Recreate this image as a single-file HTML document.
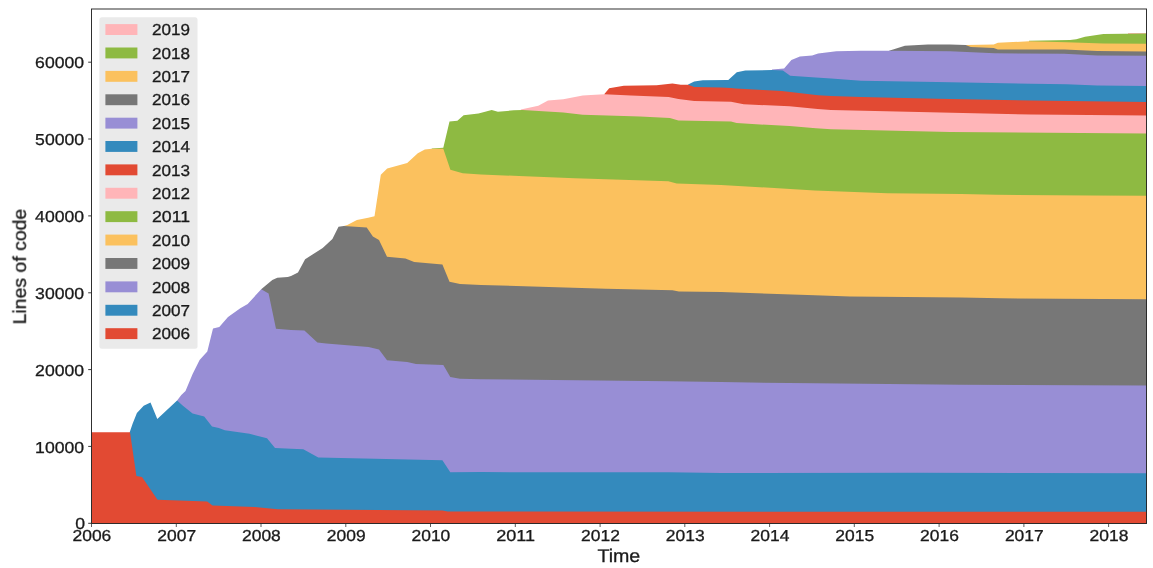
<!DOCTYPE html>
<html><head><meta charset="utf-8"><style>
html,body{margin:0;padding:0;background:#fff;}
body{width:1153px;height:568px;overflow:hidden;font-family:"Liberation Sans", sans-serif;}
svg{display:block;} text{text-rendering:geometricPrecision;}
</style></head><body>
<svg width="1153" height="568" viewBox="0 0 1153 568">
<rect width="1153" height="568" fill="#fff"/>
<clipPath id="ax"><rect x="91" y="9" width="1056" height="514.5"/></clipPath>
<g clip-path="url(#ax)">
<polygon points="1128.0,33.0 1146.0,32.9 1148.0,32.9 1148.0,524.0 1128.0,524.0" fill="#FFB5B8"/>
<polygon points="1029.0,40.8 1070.0,40.1 1076.3,39.2 1085.0,36.7 1103.4,33.9 1146.0,33.6 1148.0,33.6 1148.0,524.0 1029.0,524.0" fill="#8EBA42"/>
<polygon points="966.0,44.9 993.7,44.4 997.9,42.8 1029.0,41.3 1066.5,42.3 1103.4,43.5 1146.0,43.7 1148.0,43.7 1148.0,524.0 966.0,524.0" fill="#FBC15E"/>
<polygon points="889.1,50.8 904.9,45.8 927.8,44.4 950.0,44.4 965.6,44.9 970.8,47.0 993.7,48.0 997.9,49.6 1064.5,49.6 1097.3,50.9 1146.0,51.5 1148.0,51.5 1148.0,524.0 889.1,524.0" fill="#777777"/>
<polygon points="772.0,69.5 784.1,68.5 791.4,60.0 799.9,56.4 812.1,55.5 818.1,53.6 830.3,52.1 836.3,51.2 861.0,50.7 889.1,50.8 950.0,51.2 994.7,53.3 1064.0,53.8 1097.3,55.6 1146.0,55.8 1148.0,55.8 1148.0,524.0 772.0,524.0" fill="#988ED5"/>
<polygon points="688.1,84.6 694.2,81.5 702.7,80.3 727.0,80.0 728.3,80.1 736.8,72.2 745.3,70.6 772.0,70.1 782.9,70.4 790.2,75.8 815.7,77.6 831.0,78.4 861.0,80.7 936.6,81.9 1031.0,83.7 1066.5,84.2 1097.3,85.6 1146.0,86.0 1148.0,86.0 1148.0,524.0 688.1,524.0" fill="#348ABD"/>
<polygon points="604.4,94.0 609.2,88.2 623.8,85.8 656.6,85.2 672.4,83.4 680.8,84.8 688.1,84.8 694.2,87.0 721.0,87.4 731.0,88.0 735.6,88.6 763.0,90.1 781.7,91.0 818.1,95.2 831.0,96.0 861.0,97.0 936.6,98.7 1031.0,100.4 1146.0,102.0 1148.0,102.0 1148.0,524.0 604.4,524.0" fill="#E24A33"/>
<polygon points="520.8,109.6 538.3,105.7 548.0,100.5 563.3,99.2 582.7,95.5 591.0,94.9 604.4,94.3 631.0,95.4 668.7,97.0 678.4,99.1 694.2,101.0 731.0,101.8 743.7,104.2 789.5,106.3 817.6,109.0 831.0,110.1 919.0,111.9 1031.0,114.5 1146.0,115.5 1148.0,115.5 1148.0,524.0 520.8,524.0" fill="#FFB5B8"/>
<polygon points="431.8,148.4 443.3,147.8 449.5,121.4 457.4,120.8 463.6,115.2 478.5,113.5 491.7,109.9 497.9,111.7 513.7,110.3 522.5,109.9 563.3,112.6 582.7,114.7 640.0,116.4 669.9,117.9 678.4,120.4 731.0,121.6 736.6,123.1 789.5,126.1 815.9,128.3 831.0,129.3 950.0,132.0 1146.0,133.6 1148.0,133.6 1148.0,524.0 431.8,524.0" fill="#8EBA42"/>
<polygon points="343.8,225.9 347.3,225.0 356.9,219.9 368.2,217.7 374.5,216.3 380.8,174.8 387.2,168.5 407.2,162.9 417.8,153.2 424.8,149.6 431.8,148.8 443.3,148.7 450.4,169.8 462.7,173.3 481.0,174.6 519.0,176.0 574.7,178.3 668.3,181.2 676.7,183.5 721.0,185.0 814.7,190.4 887.5,193.3 961.0,193.9 996.3,194.8 1090.0,195.4 1146.0,195.8 1148.0,195.8 1148.0,524.0 343.8,524.0" fill="#FBC15E"/>
<polygon points="261.2,289.2 272.3,280.0 277.3,277.8 287.8,277.0 291.0,276.0 298.0,272.5 305.1,259.3 322.7,247.9 332.4,239.1 338.5,226.8 343.8,225.9 366.7,227.6 372.9,236.4 379.0,240.0 387.0,256.7 405.4,258.5 414.2,262.0 442.4,264.6 449.5,281.7 460.0,284.0 481.0,285.0 605.9,288.7 672.5,290.2 678.8,291.4 721.0,292.1 814.7,295.2 850.0,296.4 961.0,297.5 1000.4,298.3 1146.0,299.2 1148.0,299.2 1148.0,524.0 261.2,524.0" fill="#777777"/>
<polygon points="177.1,400.5 181.3,395.0 185.5,391.0 192.5,374.2 199.6,360.1 207.3,351.6 213.0,328.4 219.3,327.0 228.0,317.0 240.3,308.3 247.7,304.0 261.2,289.2 268.6,293.6 276.0,328.7 291.0,329.9 304.4,330.5 317.4,342.6 326.2,343.5 368.5,347.0 379.0,349.6 387.0,360.2 407.2,362.0 416.0,364.1 443.3,365.1 450.3,376.9 460.0,378.7 481.0,379.2 668.3,381.2 721.0,382.1 814.7,383.3 961.0,384.8 1146.0,385.4 1148.0,385.4 1148.0,524.0 177.1,524.0" fill="#988ED5"/>
<polygon points="129.7,432.3 132.6,423.7 136.9,413.1 143.7,405.8 150.5,402.4 157.3,418.9 177.1,400.5 182.9,405.8 192.6,413.6 204.2,416.5 212.0,426.6 218.8,428.1 224.8,430.3 249.5,433.8 267.0,438.2 275.0,447.9 291.0,448.8 303.3,449.3 318.3,457.6 442.4,460.2 450.3,472.2 481.0,472.1 668.0,472.3 721.0,473.1 913.0,472.7 1146.0,473.3 1148.0,473.3 1148.0,524.0 129.7,524.0" fill="#348ABD"/>
<polygon points="91.5,432.3 130.0,432.3 136.4,476.0 142.0,477.0 157.5,499.8 207.2,501.6 212.5,505.6 254.7,506.9 277.6,509.2 312.0,509.5 442.4,510.4 447.7,511.6 1146.0,511.7 1148.0,511.7 1148.0,524.0 91.5,524.0" fill="#E24A33"/>
</g>
<rect x="91.5" y="9.0" width="1055" height="514.5" fill="none" stroke="#262626" stroke-width="0.95"/>
<line x1="88.2" y1="523.3" x2="91" y2="523.3" stroke="#222" stroke-width="0.9"/>
<line x1="88.2" y1="446.4" x2="91" y2="446.4" stroke="#222" stroke-width="0.9"/>
<line x1="88.2" y1="369.6" x2="91" y2="369.6" stroke="#222" stroke-width="0.9"/>
<line x1="88.2" y1="292.8" x2="91" y2="292.8" stroke="#222" stroke-width="0.9"/>
<line x1="88.2" y1="215.9" x2="91" y2="215.9" stroke="#222" stroke-width="0.9"/>
<line x1="88.2" y1="139.0" x2="91" y2="139.0" stroke="#222" stroke-width="0.9"/>
<line x1="88.2" y1="62.2" x2="91" y2="62.2" stroke="#222" stroke-width="0.9"/>
<line x1="91.5" y1="524" x2="91.5" y2="527" stroke="#333" stroke-width="0.8"/>
<line x1="176.3" y1="524" x2="176.3" y2="527" stroke="#333" stroke-width="0.8"/>
<line x1="261.0" y1="524" x2="261.0" y2="527" stroke="#333" stroke-width="0.8"/>
<line x1="345.8" y1="524" x2="345.8" y2="527" stroke="#333" stroke-width="0.8"/>
<line x1="430.5" y1="524" x2="430.5" y2="527" stroke="#333" stroke-width="0.8"/>
<line x1="515.3" y1="524" x2="515.3" y2="527" stroke="#333" stroke-width="0.8"/>
<line x1="600.1" y1="524" x2="600.1" y2="527" stroke="#333" stroke-width="0.8"/>
<line x1="684.8" y1="524" x2="684.8" y2="527" stroke="#333" stroke-width="0.8"/>
<line x1="769.6" y1="524" x2="769.6" y2="527" stroke="#333" stroke-width="0.8"/>
<line x1="854.3" y1="524" x2="854.3" y2="527" stroke="#333" stroke-width="0.8"/>
<line x1="939.1" y1="524" x2="939.1" y2="527" stroke="#333" stroke-width="0.8"/>
<line x1="1023.9" y1="524" x2="1023.9" y2="527" stroke="#333" stroke-width="0.8"/>
<line x1="1108.6" y1="524" x2="1108.6" y2="527" stroke="#333" stroke-width="0.8"/>
<g opacity="0.999">
<text x="75.2" y="528.8" font-size="15.9" stroke="#1a1a1a" stroke-width="0.3" textLength="9.8" lengthAdjust="spacingAndGlyphs" font-family="Liberation Sans, sans-serif" fill="#1a1a1a">0</text>
<text x="35.1" y="452.6" font-size="15.9" stroke="#1a1a1a" stroke-width="0.3" textLength="49.0" lengthAdjust="spacingAndGlyphs" font-family="Liberation Sans, sans-serif" fill="#1a1a1a">10000</text>
<text x="35.1" y="375.8" font-size="15.9" stroke="#1a1a1a" stroke-width="0.3" textLength="49.0" lengthAdjust="spacingAndGlyphs" font-family="Liberation Sans, sans-serif" fill="#1a1a1a">20000</text>
<text x="35.1" y="298.9" font-size="15.9" stroke="#1a1a1a" stroke-width="0.3" textLength="49.0" lengthAdjust="spacingAndGlyphs" font-family="Liberation Sans, sans-serif" fill="#1a1a1a">30000</text>
<text x="35.1" y="222.1" font-size="15.9" stroke="#1a1a1a" stroke-width="0.3" textLength="49.0" lengthAdjust="spacingAndGlyphs" font-family="Liberation Sans, sans-serif" fill="#1a1a1a">40000</text>
<text x="35.1" y="145.2" font-size="15.9" stroke="#1a1a1a" stroke-width="0.3" textLength="49.0" lengthAdjust="spacingAndGlyphs" font-family="Liberation Sans, sans-serif" fill="#1a1a1a">50000</text>
<text x="35.1" y="68.4" font-size="15.9" stroke="#1a1a1a" stroke-width="0.3" textLength="49.0" lengthAdjust="spacingAndGlyphs" font-family="Liberation Sans, sans-serif" fill="#1a1a1a">60000</text>
<text x="72.5" y="540.9" font-size="15.9" stroke="#1a1a1a" stroke-width="0.3" textLength="38.8" lengthAdjust="spacingAndGlyphs" font-family="Liberation Sans, sans-serif" fill="#1a1a1a">2006</text>
<text x="157.3" y="540.9" font-size="15.9" stroke="#1a1a1a" stroke-width="0.3" textLength="38.8" lengthAdjust="spacingAndGlyphs" font-family="Liberation Sans, sans-serif" fill="#1a1a1a">2007</text>
<text x="242.0" y="540.9" font-size="15.9" stroke="#1a1a1a" stroke-width="0.3" textLength="38.8" lengthAdjust="spacingAndGlyphs" font-family="Liberation Sans, sans-serif" fill="#1a1a1a">2008</text>
<text x="326.8" y="540.9" font-size="15.9" stroke="#1a1a1a" stroke-width="0.3" textLength="38.8" lengthAdjust="spacingAndGlyphs" font-family="Liberation Sans, sans-serif" fill="#1a1a1a">2009</text>
<text x="411.5" y="540.9" font-size="15.9" stroke="#1a1a1a" stroke-width="0.3" textLength="38.8" lengthAdjust="spacingAndGlyphs" font-family="Liberation Sans, sans-serif" fill="#1a1a1a">2010</text>
<text x="496.3" y="540.9" font-size="15.9" stroke="#1a1a1a" stroke-width="0.3" textLength="38.8" lengthAdjust="spacingAndGlyphs" font-family="Liberation Sans, sans-serif" fill="#1a1a1a">2011</text>
<text x="581.1" y="540.9" font-size="15.9" stroke="#1a1a1a" stroke-width="0.3" textLength="38.8" lengthAdjust="spacingAndGlyphs" font-family="Liberation Sans, sans-serif" fill="#1a1a1a">2012</text>
<text x="665.8" y="540.9" font-size="15.9" stroke="#1a1a1a" stroke-width="0.3" textLength="38.8" lengthAdjust="spacingAndGlyphs" font-family="Liberation Sans, sans-serif" fill="#1a1a1a">2013</text>
<text x="750.6" y="540.9" font-size="15.9" stroke="#1a1a1a" stroke-width="0.3" textLength="38.8" lengthAdjust="spacingAndGlyphs" font-family="Liberation Sans, sans-serif" fill="#1a1a1a">2014</text>
<text x="835.3" y="540.9" font-size="15.9" stroke="#1a1a1a" stroke-width="0.3" textLength="38.8" lengthAdjust="spacingAndGlyphs" font-family="Liberation Sans, sans-serif" fill="#1a1a1a">2015</text>
<text x="920.1" y="540.9" font-size="15.9" stroke="#1a1a1a" stroke-width="0.3" textLength="38.8" lengthAdjust="spacingAndGlyphs" font-family="Liberation Sans, sans-serif" fill="#1a1a1a">2016</text>
<text x="1004.9" y="540.9" font-size="15.9" stroke="#1a1a1a" stroke-width="0.3" textLength="38.8" lengthAdjust="spacingAndGlyphs" font-family="Liberation Sans, sans-serif" fill="#1a1a1a">2017</text>
<text x="1089.6" y="540.9" font-size="15.9" stroke="#1a1a1a" stroke-width="0.3" textLength="38.8" lengthAdjust="spacingAndGlyphs" font-family="Liberation Sans, sans-serif" fill="#1a1a1a">2018</text>
<text x="597.4" y="562.3" font-size="18.3" stroke="#1a1a1a" stroke-width="0.3" textLength="42.9" lengthAdjust="spacingAndGlyphs" font-family="Liberation Sans, sans-serif" fill="#1a1a1a">Time</text>
<text transform="translate(25.8,324.4) rotate(-90)" x="0" y="0" font-size="18.3" stroke="#1a1a1a" stroke-width="0.3" textLength="115.6" lengthAdjust="spacingAndGlyphs" font-family="Liberation Sans, sans-serif" fill="#1a1a1a">Lines of code</text>
<rect x="99.4" y="17.2" width="98.1" height="331.5" rx="2.5" ry="2.5" fill="#EAEAEA"/>
<rect x="105.4" y="24.1" width="32" height="10.9" fill="#FFB5B8"/>
<text x="152" y="35.2" font-size="15.9" stroke="#1a1a1a" stroke-width="0.3" textLength="38" lengthAdjust="spacingAndGlyphs" font-family="Liberation Sans, sans-serif" fill="#1a1a1a">2019</text>
<rect x="105.4" y="47.5" width="32" height="10.9" fill="#8EBA42"/>
<text x="152" y="58.6" font-size="15.9" stroke="#1a1a1a" stroke-width="0.3" textLength="38" lengthAdjust="spacingAndGlyphs" font-family="Liberation Sans, sans-serif" fill="#1a1a1a">2018</text>
<rect x="105.4" y="70.9" width="32" height="10.9" fill="#FBC15E"/>
<text x="152" y="82.0" font-size="15.9" stroke="#1a1a1a" stroke-width="0.3" textLength="38" lengthAdjust="spacingAndGlyphs" font-family="Liberation Sans, sans-serif" fill="#1a1a1a">2017</text>
<rect x="105.4" y="94.3" width="32" height="10.9" fill="#777777"/>
<text x="152" y="105.4" font-size="15.9" stroke="#1a1a1a" stroke-width="0.3" textLength="38" lengthAdjust="spacingAndGlyphs" font-family="Liberation Sans, sans-serif" fill="#1a1a1a">2016</text>
<rect x="105.4" y="117.7" width="32" height="10.9" fill="#988ED5"/>
<text x="152" y="128.8" font-size="15.9" stroke="#1a1a1a" stroke-width="0.3" textLength="38" lengthAdjust="spacingAndGlyphs" font-family="Liberation Sans, sans-serif" fill="#1a1a1a">2015</text>
<rect x="105.4" y="141.0" width="32" height="10.9" fill="#348ABD"/>
<text x="152" y="152.1" font-size="15.9" stroke="#1a1a1a" stroke-width="0.3" textLength="38" lengthAdjust="spacingAndGlyphs" font-family="Liberation Sans, sans-serif" fill="#1a1a1a">2014</text>
<rect x="105.4" y="164.4" width="32" height="10.9" fill="#E24A33"/>
<text x="152" y="175.5" font-size="15.9" stroke="#1a1a1a" stroke-width="0.3" textLength="38" lengthAdjust="spacingAndGlyphs" font-family="Liberation Sans, sans-serif" fill="#1a1a1a">2013</text>
<rect x="105.4" y="187.8" width="32" height="10.9" fill="#FFB5B8"/>
<text x="152" y="198.9" font-size="15.9" stroke="#1a1a1a" stroke-width="0.3" textLength="38" lengthAdjust="spacingAndGlyphs" font-family="Liberation Sans, sans-serif" fill="#1a1a1a">2012</text>
<rect x="105.4" y="211.2" width="32" height="10.9" fill="#8EBA42"/>
<text x="152" y="222.3" font-size="15.9" stroke="#1a1a1a" stroke-width="0.3" textLength="38" lengthAdjust="spacingAndGlyphs" font-family="Liberation Sans, sans-serif" fill="#1a1a1a">2011</text>
<rect x="105.4" y="234.6" width="32" height="10.9" fill="#FBC15E"/>
<text x="152" y="245.7" font-size="15.9" stroke="#1a1a1a" stroke-width="0.3" textLength="38" lengthAdjust="spacingAndGlyphs" font-family="Liberation Sans, sans-serif" fill="#1a1a1a">2010</text>
<rect x="105.4" y="258.0" width="32" height="10.9" fill="#777777"/>
<text x="152" y="269.1" font-size="15.9" stroke="#1a1a1a" stroke-width="0.3" textLength="38" lengthAdjust="spacingAndGlyphs" font-family="Liberation Sans, sans-serif" fill="#1a1a1a">2009</text>
<rect x="105.4" y="281.4" width="32" height="10.9" fill="#988ED5"/>
<text x="152" y="292.5" font-size="15.9" stroke="#1a1a1a" stroke-width="0.3" textLength="38" lengthAdjust="spacingAndGlyphs" font-family="Liberation Sans, sans-serif" fill="#1a1a1a">2008</text>
<rect x="105.4" y="304.8" width="32" height="10.9" fill="#348ABD"/>
<text x="152" y="315.9" font-size="15.9" stroke="#1a1a1a" stroke-width="0.3" textLength="38" lengthAdjust="spacingAndGlyphs" font-family="Liberation Sans, sans-serif" fill="#1a1a1a">2007</text>
<rect x="105.4" y="328.2" width="32" height="10.9" fill="#E24A33"/>
<text x="152" y="339.3" font-size="15.9" stroke="#1a1a1a" stroke-width="0.3" textLength="38" lengthAdjust="spacingAndGlyphs" font-family="Liberation Sans, sans-serif" fill="#1a1a1a">2006</text>
</g>
</svg>
</body></html>
